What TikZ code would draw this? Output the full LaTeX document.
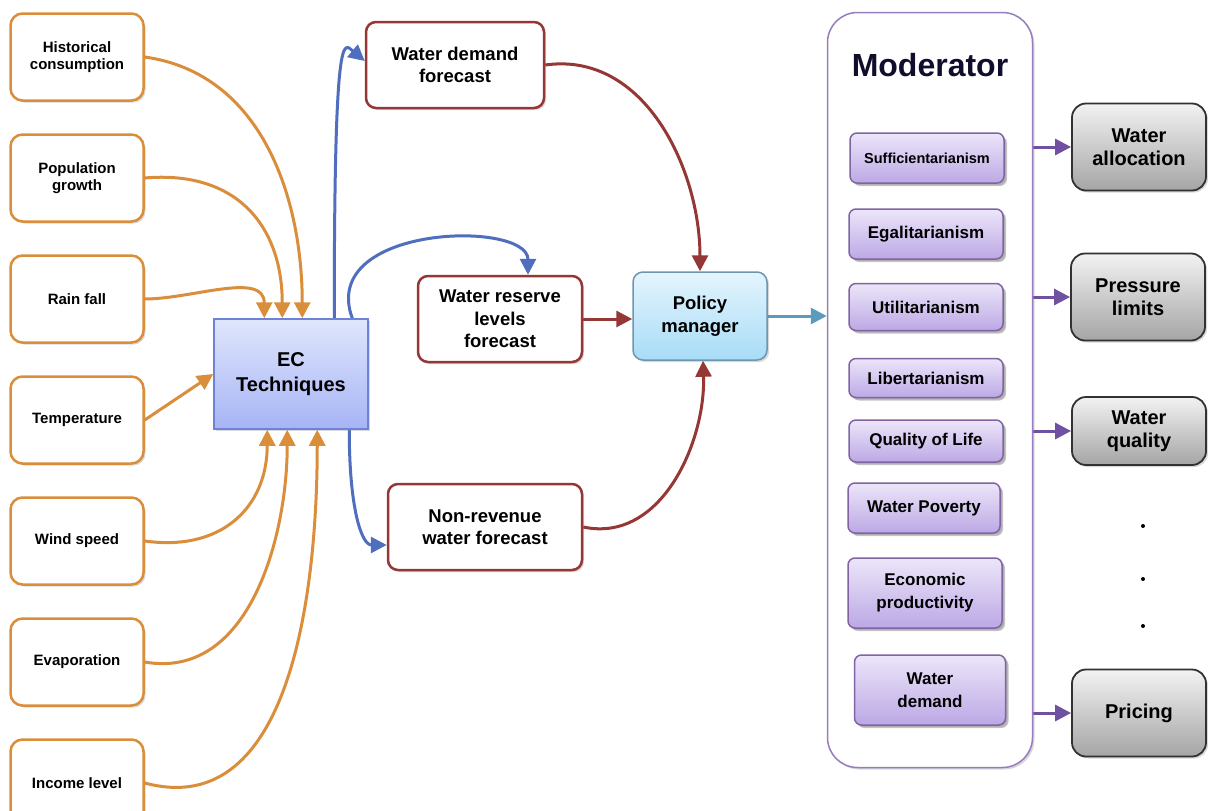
\documentclass[tikz,border=0pt]{standalone}
\usepackage{fontspec}
\setmainfont{Liberation Sans}
\usetikzlibrary{calc,positioning,shadows,arrows.meta}

\definecolor{inorange}{RGB}{218,142,60}
\definecolor{fcred}{RGB}{149,55,53}
\definecolor{genblue}{RGB}{80,110,190}
\definecolor{ecborder}{RGB}{110,130,215}
\definecolor{ectop}{RGB}{224,230,252}
\definecolor{ecbottom}{RGB}{166,180,245}
\definecolor{pmborder}{RGB}{110,150,175}
\definecolor{pmtop}{RGB}{228,245,253}
\definecolor{pmbottom}{RGB}{168,220,247}
\definecolor{outteal}{RGB}{90,155,190}
\definecolor{modborder}{RGB}{150,125,190}
\definecolor{modtext}{RGB}{15,15,45}
\definecolor{crborder}{RGB}{128,100,162}
\definecolor{crtop}{RGB}{236,230,249}
\definecolor{crbottom}{RGB}{188,168,229}
\definecolor{rulepurple}{RGB}{112,80,160}
\definecolor{restop}{RGB}{242,242,242}
\definecolor{resbottom}{RGB}{165,165,165}
\definecolor{resborder}{RGB}{50,50,50}

\begin{document}
\begin{tikzpicture}[
    x=1pt, y=1pt,
    % general settings
    node distance=31.5pt,
    align=center,
    >={Triangle[length=16pt,width=16pt]},
    % nodes
    base/.style={rectangle, rounded corners=12pt, line width=2.5pt, fill=white,
                 drop shadow={opacity=0.3,shadow xshift=2pt,shadow yshift=-2pt}},
    inbox/.style={base, draw=inorange, minimum width=133pt, minimum height=87pt,
                  font=\fontsize{15}{17}\selectfont\bfseries},
    forecast/.style={base, draw=fcred, rounded corners=10pt, minimum height=86pt,
                  font=\fontsize{18.5}{22.5}\selectfont\bfseries},
    ec/.style={base, rounded corners=0pt, line width=1.5pt, draw=ecborder,
                  top color=ectop, bottom color=ecbottom, minimum width=154pt,
                  minimum height=110pt, font=\fontsize{20}{25}\selectfont\bfseries},
    policy/.style={base, rounded corners=10pt, line width=1.5pt, draw=pmborder,
                  top color=pmtop, bottom color=pmbottom, minimum width=134pt,
                  minimum height=88pt, font=\fontsize{18.5}{23}\selectfont\bfseries},
    moderator/.style={base, rounded corners=30pt, line width=1.5pt, draw=modborder,
                  minimum width=205pt, minimum height=755pt},
    crit/.style={base, rounded corners=7pt, line width=1.5pt, draw=crborder,
                  top color=crtop, bottom color=crbottom, minimum width=154pt,
                  font=\fontsize{17}{23}\selectfont\bfseries,
                  drop shadow={opacity=0.45,shadow xshift=3pt,shadow yshift=-3pt}},
    outcome/.style={base, rounded corners=14pt, line width=1.8pt, draw=resborder,
                  top color=restop, bottom color=resbottom, minimum width=134pt,
                  minimum height=87pt, font=\fontsize{20}{23}\selectfont\bfseries},
    % arrows
    feed/.style={inorange, line width=3pt},
    gen/.style={genblue, line width=3pt},
    dep/.style={fcred, line width=3pt},
    pass/.style={outteal, line width=3pt},
    rule/.style={rulepurple, line width=3pt}
  ]

  \pgfdeclarelayer{background}
  \pgfdeclarelayer{arrows}
  \pgfsetlayers{background,arrows,main}

  \pgfonlayer{background}
  \fill[white] (0,0) rectangle (1208,-811);
  \endpgfonlayer
  \useasboundingbox (0,0) rectangle (1208,-811);

  \pgfonlayer{main}

  % inputs
  \node (hist) [inbox] at (77,-57)     {Historical\\consumption};
  \node (pop)  [inbox, below=of hist]  {Population\\growth};
  \node (rain) [inbox, below=of pop]   {Rain fall};
  \node (temp) [inbox, below=of rain]  {Temperature};
  \node (wind) [inbox, below=of temp]  {Wind speed};
  \node (evap) [inbox, below=of wind]  {Evaporation};
  \node (inc)  [inbox, below=of evap]  {Income level};

  \node (ec)   [ec] at (291,-374)      {EC\\Techniques};

  % forecasts
  \node (wdf)  [forecast, minimum width=178pt] at (455,-65)  {Water demand\\forecast};
  \node (wrf)  [forecast, minimum width=164pt] at (500,-319) {Water reserve\\levels\\forecast};
  \node (nrw)  [forecast, minimum width=194pt] at (485,-527) {Non-revenue\\water forecast};

  \node (pm)   [policy] at (700,-316)  {Policy\\manager};

  % moderator
  \node (mod)  [moderator] at (930,-390) {};
  \node (modtitle) [text=modtext, font=\fontsize{32}{36}\selectfont\bfseries]
               at (930,-65)            {Moderator};

  \node (suff) [crit, minimum height=50pt, font=\fontsize{14.5}{17}\selectfont\bfseries]
               at (927,-158)           {Sufficientarianism};
  \node (egal) [crit, minimum height=50pt] at (926,-234) {Egalitarianism};
  \node (util) [crit, minimum height=47pt] at (926,-307) {Utilitarianism};
  \node (lib)  [crit, minimum height=39pt] at (926,-378) {Libertarianism};
  \node (qol)  [crit, minimum height=42pt] at (926,-441) {Quality of Life};
  \node (wpov) [crit, minimum height=50pt, minimum width=152pt] at (924,-508) {Water Poverty};
  \node (econ) [crit, minimum height=70pt] at (925,-593) {Economic\\productivity};
  \node (wdem) [crit, minimum height=70pt, minimum width=151pt] at (930,-690) {Water\\demand};

  % outcomes
  \node (wal)  [outcome] at (1139,-147) {Water\\allocation};
  \node (prl)  [outcome] at (1138,-297) {Pressure\\limits};
  \node (wql)  [outcome, minimum height=68pt] at (1139,-431) {Water\\quality};
  \node (pri)  [outcome] at (1139,-713) {Pricing};

  \foreach \y in {526,579,626}
    \fill (1143,-\y) circle (2pt);

  \endpgfonlayer

  \pgfonlayer{arrows}

  \draw[->,feed] (hist.east) to [out=-8,in=90]   ([xshift=89pt]ec.north west);
  \draw[->,feed] (pop.east)  to [out=5,in=90,looseness=1.2] ([xshift=69pt]ec.north west);
  \draw[->,feed] (rain.east) to [out=0,in=90]    ([xshift=51pt]ec.north west);
  \draw[->,feed] (temp.east) --                  (ec.west);
  \draw[->,feed] (wind.east) to [out=-8,in=-90,looseness=1.2] ([xshift=54pt]ec.south west);
  \draw[->,feed] (evap.east) to [out=-10,in=-90] ([xshift=74pt]ec.south west);
  \draw[->,feed] (inc.east)  to [out=-15,in=-90] ([xshift=104pt]ec.south west);

  \draw[->,gen]  ([xshift=121pt]ec.north west)
                   to [out=90,in=140,out distance=295pt,in distance=28pt] ([yshift=4pt]wdf.west);
  \draw[->,gen]  ([xshift=139pt]ec.north west)
                   to [out=110,in=90,out distance=100pt,in distance=55pt] ([xshift=28pt]wrf.north);
  \draw[->,gen]  ([xshift=136pt]ec.south west)
                   to [out=-90,in=180,out distance=80pt,in distance=25pt] ([yshift=-18pt]nrw.west);

  \draw[->,dep]  (wdf.east)  to [out=8,in=90]    (pm.north);
  \draw[->,dep]  (wrf.east)  --                  (wrf.east -| pm.west);
  \draw[->,dep]  (nrw.east)  to [out=-12,in=-88] ([xshift=3pt]pm.south);

  \draw[->,pass] (pm.east)   --                  (pm.east -| mod.west);

  \foreach \o in {wal,prl,wql,pri}
    \draw[->,rule] (\o.west -| mod.east) -- (\o.west);

  \endpgfonlayer
\end{tikzpicture}
\end{document}
